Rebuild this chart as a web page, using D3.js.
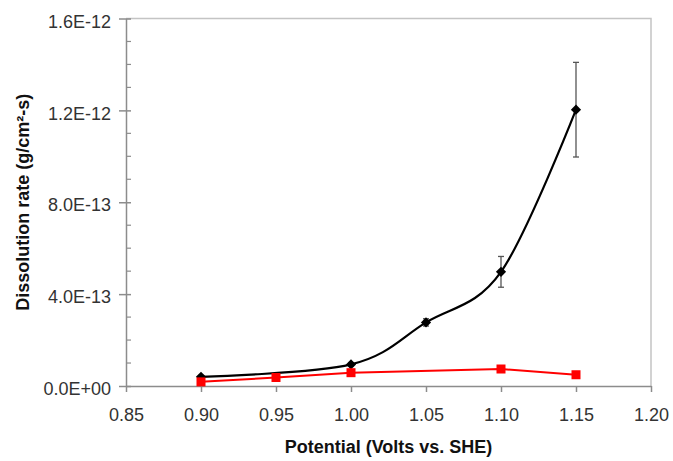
<!DOCTYPE html>
<html>
<head>
<meta charset="utf-8">
<script src="https://cdn.jsdelivr.net/npm/d3@7"></script>
<style>
  html, body { margin: 0; padding: 0; background: #fff; }
  svg { display: block; font-family: "Liberation Sans", Arial, sans-serif; }
</style>
</head>
<body>
<svg id="chart" width="673" height="461"></svg>
<script>
// ---- Data ----
const blackPotential = [0.90, 1.00, 1.05, 1.10, 1.15];
const blackRate      = [4.0e-14, 9.4e-14, 2.77e-13, 4.97e-13, 1.203e-12];
const blackErr       = [0.4e-14, 0.6e-14, 1.6e-14, 6.7e-14, 2.06e-13];

const redPotential = [0.90, 0.95, 1.00, 1.10, 1.15];
const redRate      = [1.8e-14, 3.7e-14, 5.8e-14, 7.4e-14, 4.9e-14];

const xTicks = [0.85, 0.90, 0.95, 1.00, 1.05, 1.10, 1.15, 1.20];
const xTickLabels = ["0.85", "0.90", "0.95", "1.00", "1.05", "1.10", "1.15", "1.20"];
const yTicks = [0, 4e-13, 8e-13, 1.2e-12, 1.6e-12];
const yTickLabels = ["0.0E+00", "4.0E-13", "8.0E-13", "1.2E-12", "1.6E-12"];
const yMinorTicks = [1e-13, 2e-13, 3e-13, 5e-13, 6e-13, 7e-13, 9e-13, 1.0e-12, 1.1e-12, 1.3e-12, 1.4e-12, 1.5e-12];

const xTitle = "Potential (Volts vs. SHE)";
const yTitle = "Dissolution rate (g/cm²-s)";

(function () {
// ---- Layout ----
const mLeft = 126, mRight = 651, mTop = 18.5, mBottom = 386;
const svg = d3.select("#chart");

const x = d3.scaleLinear().domain([0.85, 1.20]).range([mLeft, mRight]);
const y = d3.scaleLinear().domain([0, 1.6e-12]).range([mBottom, mTop]);

// plot border (top & right)
svg.append("path")
  .attr("d", `M${mLeft},${mTop}H${mRight}V${mBottom}`)
  .attr("fill", "none").attr("stroke", "#c4c4c4").attr("stroke-width", 1.5);

// y axis
const yAxis = svg.append("g").attr("transform", `translate(${mLeft},0)`)
  .call(d3.axisLeft(y).tickValues(yTicks).tickFormat((d, i) => yTickLabels[i]).tickSizeInner(7).tickSizeOuter(0).tickPadding(8));
yAxis.select(".domain").attr("stroke", "#8c8c8c").attr("stroke-width", 1.5);
yAxis.selectAll(".tick line").attr("stroke", "#8c8c8c").attr("stroke-width", 1.5).attr("x2", 5).attr("x1", -7);
yAxis.selectAll(".tick text").attr("font-size", 18).attr("fill", "#333")
  .attr("font-family", "Liberation Sans, Arial, sans-serif").attr("dy", "0.48em");

// y minor ticks (inside)
svg.append("g").selectAll("line").data(yMinorTicks).join("line")
  .attr("x1", mLeft).attr("x2", mLeft + 5)
  .attr("y1", d => y(d)).attr("y2", d => y(d))
  .attr("stroke", "#8c8c8c").attr("stroke-width", 1.2);

// x axis
const xAxis = svg.append("g").attr("transform", `translate(0,${mBottom})`)
  .call(d3.axisBottom(x).tickValues(xTicks).tickFormat((d, i) => xTickLabels[i]).tickSizeInner(6).tickSizeOuter(0).tickPadding(16));
xAxis.select(".domain").attr("stroke", "#8c8c8c").attr("stroke-width", 1.5);
xAxis.selectAll(".tick line").attr("stroke", "#8c8c8c").attr("stroke-width", 1.5);
xAxis.selectAll(".tick text").attr("font-size", 18).attr("fill", "#333")
  .attr("font-family", "Liberation Sans, Arial, sans-serif");

// axis titles
svg.append("text")
  .attr("x", (mLeft + mRight) / 2).attr("y", 453)
  .attr("text-anchor", "middle").attr("font-size", 18).attr("font-weight", "bold").attr("fill", "#111")
  .text(xTitle);
svg.append("text")
  .attr("transform", `translate(29,${(mTop + mBottom) / 2}) rotate(-90)`)
  .attr("text-anchor", "middle").attr("font-size", 18).attr("font-weight", "bold").attr("fill", "#111")
  .text(yTitle);

// ---- Series ----
const blackData = blackPotential.map((p, i) => ({ x: p, y: blackRate[i], e: blackErr[i] }));
const redData = redPotential.map((p, i) => ({ x: p, y: redRate[i] }));

// error bars
const eb = svg.append("g").attr("stroke", "#555").attr("stroke-width", 1.3);
blackData.forEach(d => {
  eb.append("line").attr("x1", x(d.x)).attr("x2", x(d.x)).attr("y1", y(d.y + d.e)).attr("y2", y(d.y - d.e));
  eb.append("line").attr("x1", x(d.x) - 3).attr("x2", x(d.x) + 3).attr("y1", y(d.y + d.e)).attr("y2", y(d.y + d.e));
  eb.append("line").attr("x1", x(d.x) - 3).attr("x2", x(d.x) + 3).attr("y1", y(d.y - d.e)).attr("y2", y(d.y - d.e));
});

svg.append("path").datum(blackData)
  .attr("d", d3.line().x(d => x(d.x)).y(d => y(d.y)).curve(d3.curveCardinal.tension(0)))
  .attr("fill", "none").attr("stroke", "#000").attr("stroke-width", 2.2);

svg.append("g").selectAll("path").data(blackData).join("path")
  .attr("transform", d => `translate(${x(d.x)},${y(d.y)}) rotate(45)`)
  .attr("d", d3.symbol(d3.symbolSquare, 52))
  .attr("fill", "#000");

svg.append("path").datum(redData)
  .attr("d", d3.line().x(d => x(d.x)).y(d => y(d.y)))
  .attr("fill", "none").attr("stroke", "#ff0000").attr("stroke-width", 2);

svg.append("g").selectAll("rect").data(redData).join("rect")
  .attr("x", d => x(d.x) - 4.5).attr("y", d => y(d.y) - 4.5)
  .attr("width", 9).attr("height", 9)
  .attr("fill", "#ff0000");
})();
</script>
</body>
</html>
